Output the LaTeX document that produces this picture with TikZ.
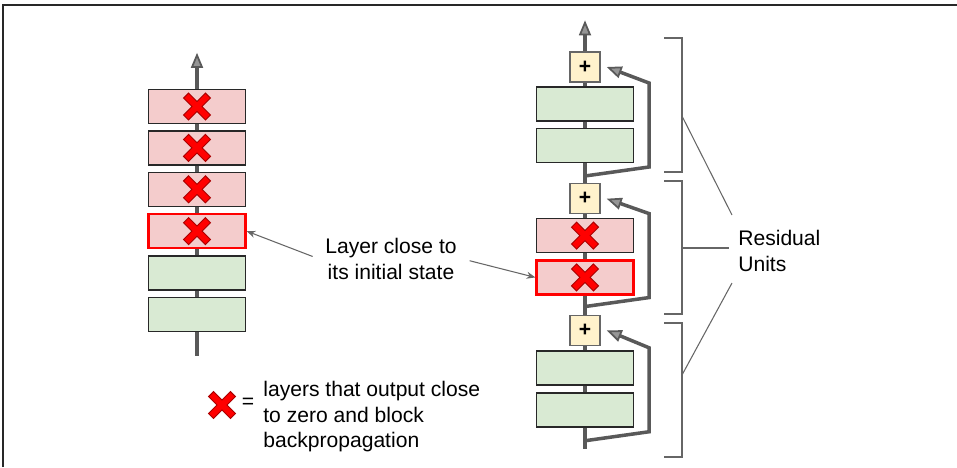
\documentclass[tikz,border=0pt]{standalone}
\usepackage{fontspec}
\setmainfont{Liberation Sans}
\usetikzlibrary{arrows.meta,positioning}
\definecolor{cbad}{RGB}{244,204,204}
\definecolor{cgood}{RGB}{217,234,211}
\definecolor{cadd}{RGB}{255,242,204}
\definecolor{cline}{RGB}{89,89,89}
\definecolor{cedge}{RGB}{40,40,40}
\definecolor{cbrace}{RGB}{102,102,102}
\definecolor{ctip}{RGB}{150,150,150}
\definecolor{cx}{RGB}{255,0,0}
\definecolor{cxdark}{RGB}{170,0,0}

\tikzset{
  layer/.style={draw=cedge, line width=0.8pt, minimum width=1.94cm, minimum height=0.68cm, inner sep=0pt},
  good/.style={layer, fill=cgood},
  bad/.style={layer, fill=cbad},
  badedge/.style={bad, draw=cx, line width=1.3pt},
  addbox/.style={draw=cbrace, line width=0.8pt, fill=cadd, minimum size=0.6cm, inner sep=0pt, font=\large\bfseries},
  mainline/.style={draw=cline, line width=2pt},
  flow/.style={-{Triangle[length=0.3cm, width=0.24cm, fill=ctip, line width=1pt]}},
  pointer/.style={draw=cbrace, line width=0.6pt, -{Stealth[length=5pt, width=4pt]}},
  brace/.style={draw=cbrace, line width=0.8pt},
  txt/.style={font=\fontsize{12}{14.5}\selectfont},
  redx/.pic={
    \draw[cxdark, line width=4.6pt] (-11.3,-11.3) -- (11.3,11.3) (-11.3,11.3) -- (11.3,-11.3);
    \draw[cx, line width=3.4pt] (-10.5,-10.5) -- (10.5,10.5) (-10.5,10.5) -- (10.5,-10.5);
  }
}

\begin{document}
\begin{tikzpicture}[x=0.02cm, y=-0.02cm, node distance=0.12cm]
  \useasboundingbox (0,0) rectangle (957,467);
  \draw[cedge, line width=1.1pt] (3,467) -- (3,5) -- (957,5);

  % plain stack
  \node[bad] (l1) at (197,106.5) {};
  \node[bad, below=of l1] (l2) {};
  \node[bad, below=of l2] (l3) {};
  \node[badedge, below=of l3] (l4) {};
  \node[good, below=of l4] (l5) {};
  \node[good, below=of l5] (l6) {};
  \coordinate[above=0.72cm of l1] (ltop);
  \coordinate[below=0.48cm of l6] (lbot);
  \foreach \a/\b in {l1/l2,l2/l3,l3/l4,l4/l5,l5/l6}
    \draw[mainline] (\a.south) -- (\b.north);
  \draw[mainline, flow] (l1.north) -- (ltop);
  \draw[mainline] (l6.south) -- (lbot);
  \foreach \n in {l1,l2,l3,l4}
    \pic at (\n) {redx};

  % residual stack
  \node[addbox] (p1) at (585,67) {+};
  \node[good, below=0.07cm of p1] (g1) {};
  \node[good, below=0.12cm of g1] (g2) {};
  \node[addbox, below=0.4cm of g2] (p2) {+};
  \node[bad, below=0.07cm of p2] (r1) {};
  \node[badedge, below=0.12cm of r1] (r2) {};
  \node[addbox, below=0.38cm of r2] (p3) {+};
  \node[good, below=0.09cm of p3] (g3) {};
  \node[good, below=0.13cm of g3] (g4) {};
  \coordinate[above=0.62cm of p1] (rtop);
  \coordinate[below=0.26cm of g2] (j1);
  \coordinate[below=0.22cm of r2] (j2);
  \coordinate[below=0.26cm of g4] (j3);
  \coordinate[below=0.42cm of g4] (rbot);
  \foreach \a/\b in {p1/g1,g1/g2,g2/p2,p2/r1,r1/r2,r2/p3,p3/g3,g3/g4}
    \draw[mainline] (\a.south) -- (\b.north);
  \draw[mainline, flow] (p1.north) -- (rtop);
  \draw[mainline] (g4.south) -- (rbot);
  \foreach \j/\p in {j1/p1,j2/p2,j3/p3}
    \draw[mainline, flow] (\j) -- ++(64,-9) -- ++(0,-84) -- ([xshift=0.12cm]\p.east);
  \foreach \n in {r1,r2}
    \pic at (\n) {redx};

  % labels
  \node[txt, align=center] (lbl) at (391,259) {Layer close to\\its initial state};
  \draw[pointer, shorten <=4pt] (lbl.west) -- (l4.east);
  \draw[pointer, shorten <=4pt] (lbl.east) -- (r2.west);

  \draw[brace] (664,38) -| (682,172) -- (664,172);
  \draw[brace] (664,181) -| (682,314) -- (664,314);
  \draw[brace] (664,323) -| (682,457) -- (664,457);
  \node[txt, align=left, anchor=west, inner sep=0pt] (res) at (738,251) {Residual\\Units};
  \coordinate (k1) at (682,116);
  \coordinate (k2) at (682,248);
  \coordinate (k3) at (682,375);
  \coordinate (e1) at (732,215);
  \coordinate (e2) at (729,248);
  \coordinate (e3) at (732,283);
  \foreach \k/\e in {k1/e1,k2/e2,k3/e3}
    \draw[brace, line width=0.6pt] (\k) -- (\e);

  % legend
  \pic at (222,405) {redx};
  \node[txt] (eq) at (248,403) {=};
  \node[txt, align=left, anchor=north west, inner sep=0pt] (key) at (263,381)
       {layers that output close\\to zero and block\\backpropagation};
\end{tikzpicture}
\end{document}
